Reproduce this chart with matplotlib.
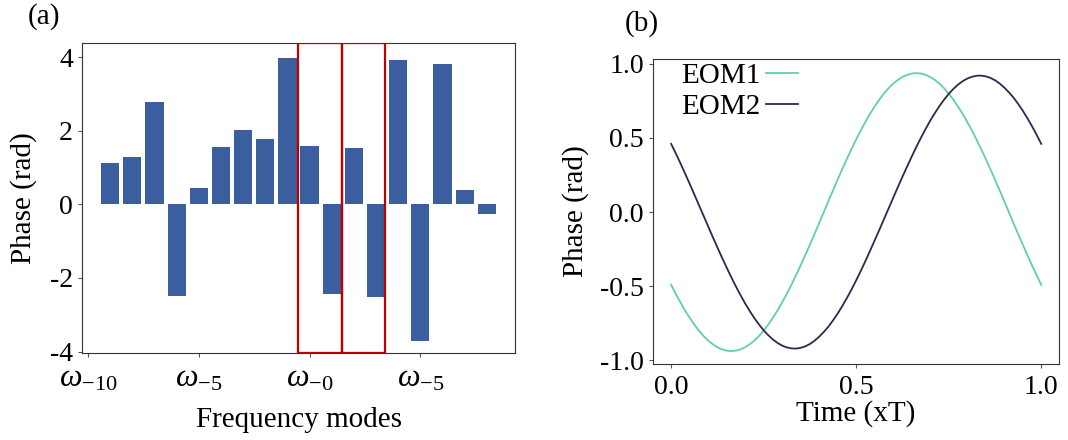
import numpy as np
import matplotlib
matplotlib.use("Agg")
import matplotlib.pyplot as plt
from matplotlib.patches import Rectangle

# Fonts: serif look, hyphen minus on tick labels
plt.rcParams['font.family'] = ['Liberation Serif', 'DejaVu Serif']
plt.rcParams['mathtext.fontset'] = 'custom'
plt.rcParams['mathtext.rm'] = 'Liberation Serif'
plt.rcParams['mathtext.it'] = 'Liberation Serif:italic'
plt.rcParams['axes.unicode_minus'] = False
plt.rcParams['font.size'] = 20

# (a) phase of each frequency mode
modes = list(range(-9, 9))
phases = [1.14, 1.28, 2.78, -2.48, 0.46, 1.55, 2.02, 1.77, 3.98,
          1.58, -2.43, 1.53, -2.53, 3.93, -3.71, 3.82, 0.38, -0.27]
mode_ticks = [-10, -5, 0, 5]
mode_labels = [r'$\omega_{-10}$', r'$\omega_{-5}$', r'$\omega_{-0}$', r'$\omega_{-5}$']
boxes = [(-0.5, 1.95), (1.45, 1.95)]  # (start, width) of the red boxes

# (b) EOM drive phase over one period (81 samples)
eom1 = [-0.490, -0.551, -0.608, -0.663, -0.712, -0.758, -0.799, -0.835, -0.866, -0.891,
        -0.911, -0.925, -0.934, -0.937, -0.934, -0.925, -0.911, -0.891, -0.866, -0.835,
        -0.799, -0.758, -0.712, -0.663, -0.608, -0.551, -0.490, -0.425, -0.359, -0.290,
        -0.219, -0.147, -0.074, 0.000, 0.074, 0.147, 0.219, 0.290, 0.359, 0.425,
        0.490, 0.551, 0.608, 0.663, 0.712, 0.758, 0.799, 0.835, 0.866, 0.891,
        0.911, 0.925, 0.934, 0.937, 0.934, 0.925, 0.911, 0.891, 0.866, 0.835,
        0.799, 0.758, 0.712, 0.663, 0.608, 0.551, 0.490, 0.425, 0.359, 0.290,
        0.219, 0.147, 0.074, 0.000, -0.074, -0.147, -0.219, -0.290, -0.359, -0.425,
        -0.490]
eom2 = [0.460, 0.396, 0.330, 0.261, 0.191, 0.120, 0.048, -0.024, -0.096, -0.168,
        -0.238, -0.307, -0.374, -0.439, -0.501, -0.560, -0.616, -0.667, -0.715, -0.758,
        -0.797, -0.830, -0.859, -0.882, -0.900, -0.912, -0.919, -0.920, -0.915, -0.905,
        -0.889, -0.867, -0.840, -0.808, -0.772, -0.730, -0.684, -0.633, -0.579, -0.521,
        -0.460, -0.396, -0.330, -0.261, -0.191, -0.120, -0.048, 0.024, 0.096, 0.168,
        0.238, 0.307, 0.374, 0.439, 0.501, 0.560, 0.616, 0.667, 0.715, 0.758,
        0.797, 0.830, 0.859, 0.882, 0.900, 0.912, 0.919, 0.920, 0.915, 0.905,
        0.889, 0.867, 0.840, 0.808, 0.772, 0.730, 0.684, 0.633, 0.579, 0.521,
        0.460]
time = np.linspace(0, 1, len(eom1))

fig = plt.figure(figsize=(10.68, 4.4), dpi=100)
ax1 = fig.add_axes([82/1068, 1 - 353/440, 433/1068, 310/440])
ax2 = fig.add_axes([653/1068, 1 - 364/440, 406/1068, 305/440])

# left panel
ax1.bar(modes, phases, width=0.82, color='#3a5e9e')
for x0, w in boxes:
    ax1.add_patch(Rectangle((x0, -4.04), w, 8.43, fill=False,
                            edgecolor='#c00000', lw=1.6, zorder=3))
ax1.set_xlim(-10.27, 9.27)
ax1.set_ylim(-4.04, 4.39)
ax1.set_yticks([-4, -2, 0, 2, 4])
ax1.set_xticks(mode_ticks)
ax1.set_xticklabels(mode_labels, fontsize=23)
ax1.tick_params(axis='x', pad=5)
ax1.set_xlabel('Frequency modes', fontsize=21, labelpad=10)
ax1.set_ylabel('Phase (rad)', fontsize=21, labelpad=9)

# right panel
ax2.plot(time, eom1, color='#60d0a8', lw=1.3, label='EOM1')
ax2.plot(time, eom2, color='#2e2850', lw=1.3, label='EOM2')
ax2.set_xlim(-0.049, 1.048)
ax2.set_ylim(-1.024, 1.032)
ax2.set_xticks([0.0, 0.5, 1.0])
ax2.set_yticks([-1.0, -0.5, 0.0, 0.5, 1.0])
ax2.tick_params(axis='x', pad=5)
ax2.set_xlabel('Time (xT)', fontsize=21, labelpad=0)
ax2.set_ylabel('Phase (rad)', fontsize=21, labelpad=8)
ax2.legend(loc='upper left', frameon=False, markerfirst=False, handlelength=1.1,
           handletextpad=0.2, borderaxespad=0.0, labelspacing=0.15,
           bbox_to_anchor=(0.04, 1.025), fontsize=21)

for ax in (ax1, ax2):
    for s in ax.spines.values():
        s.set_linewidth(0.8)
        s.set_color('#333333')
    ax.tick_params(length=3, width=0.8, color='#555555')

fig.text(44/1068, 1 - 17/440, '(a)', ha='center', va='center', fontsize=21)
fig.text(642/1068, 1 - 24/440, '(b)', ha='center', va='center', fontsize=21)

fig.savefig('out.png', dpi=100)
